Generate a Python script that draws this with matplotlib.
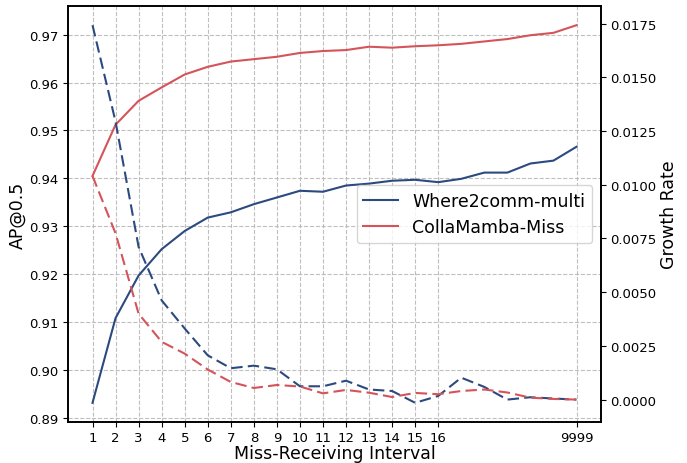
import matplotlib
matplotlib.use("Agg")
import matplotlib.pyplot as plt
import numpy as np

intervals = ["1", "2", "3", "4", "5", "6", "7", "8", "9", "10", "11", "12", "13",
             "14", "15", "16", "", "", "", "", "", "9999"]

ap_where2comm = [0.8931, 0.9108, 0.9197, 0.9252, 0.9290, 0.9318, 0.9329, 0.9346,
                 0.9360, 0.9374, 0.9372, 0.9385, 0.9389, 0.9395, 0.9397, 0.9392,
                 0.9399, 0.9412, 0.9412, 0.9431, 0.9437, 0.9466]
ap_collamamba = [0.9405, 0.9512, 0.9562, 0.9590, 0.9617, 0.9633, 0.9644, 0.9649,
                 0.9654, 0.9662, 0.9666, 0.9668, 0.9675, 0.9673, 0.9676, 0.9678,
                 0.9681, 0.9686, 0.9691, 0.9699, 0.9704, 0.9720]

gr_where2comm = [0.01743, 0.01294, 0.00711, 0.00462, 0.00331, 0.00206, 0.00146,
                 0.00158, 0.00141, 0.00062, 0.00062, 0.00088, 0.00047, 0.00040,
                 -0.00015, 0.00017, 0.00102, 0.00059, 0.00000, 0.00011, 0.00005,
                 0.00000]
gr_collamamba = [0.01041, 0.00774, 0.00400, 0.00269, 0.00214, 0.00140, 0.00082,
                 0.00054, 0.00068, 0.00061, 0.00029, 0.00045, 0.00032, 0.00012,
                 0.00031, 0.00025, 0.00040, 0.00047, 0.00033, 0.00009, 0.00003,
                 0.00000]

blue = "#2c4a7e"
red = "#d4545a"

x = np.arange(1, len(intervals) + 1)
tick_pos = [xi for xi, lab in zip(x, intervals) if lab]
tick_lab = [lab for lab in intervals if lab]

fig = plt.figure(figsize=(6.87, 4.64), dpi=100)
ax1 = fig.add_axes([68.3 / 687, 1 - 422.7 / 464, (600.7 - 68.3) / 687, (422.7 - 7.3) / 464])
ax2 = ax1.twinx()

l1, = ax1.plot(x, ap_where2comm, color=blue, lw=1.5, label="Where2comm-multi")
l2, = ax1.plot(x, ap_collamamba, color=red, lw=1.5, label="CollaMamba-Miss")
ax2.plot(x, gr_where2comm, color=blue, lw=1.5, ls=(0, (5.5, 2.5)))
ax2.plot(x, gr_collamamba, color=red, lw=1.5, ls=(0, (5.5, 2.5)))

ax1.set_xticks(tick_pos)
ax1.set_xticklabels(tick_lab)
ax1.set_yticks([0.89, 0.90, 0.91, 0.92, 0.93, 0.94, 0.95, 0.96, 0.97])
ax1.set_yticklabels(["0.89", "0.90", "0.91", "0.92", "0.93", "0.94", "0.95", "0.96", "0.97"])
ax2.set_yticks([0.0, 0.0025, 0.005, 0.0075, 0.01, 0.0125, 0.015, 0.0175])
ax2.set_yticklabels(["0.0000", "0.0025", "0.0050", "0.0075", "0.0100", "0.0125", "0.0150", "0.0175"])

ax1.grid(True, ls="--", color="#b8b8b8", lw=0.8, alpha=0.9)
ax1.tick_params(labelsize=9.5)
ax2.tick_params(labelsize=9.5)
ax1.set_xlabel("Miss-Receiving Interval", fontsize=12.5, labelpad=0)
ax1.set_ylabel("AP@0.5", fontsize=12.5, labelpad=2)
ax2.set_ylabel("Growth Rate", fontsize=12.5, labelpad=2)

for ax in (ax1, ax2):
    for s in ax.spines.values():
        s.set_linewidth(1.2)

ax1.legend(handles=[l1, l2], loc="center right", fontsize=12.5)

fig.savefig("out.png", dpi=100)
